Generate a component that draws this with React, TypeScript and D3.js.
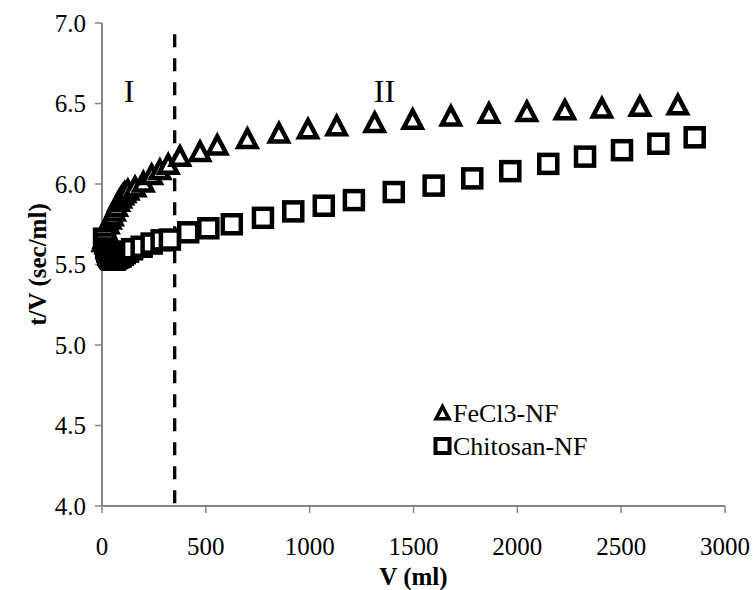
import * as d3 from "d3";
import { useEffect, useRef } from "react";

// FeCl3-NF series (V in ml, t/V in sec/ml)
const fecl3V = [5, 10, 15, 20, 30, 40, 50, 60, 70, 80, 90, 100, 110, 125, 159, 199, 239, 279, 319, 375, 472, 555, 700, 852, 992, 1130, 1313, 1496, 1680, 1863, 2046, 2229, 2407, 2590, 2773];
const fecl3T = [5.64, 5.66, 5.69, 5.71, 5.75, 5.78, 5.8, 5.83, 5.86, 5.89, 5.91, 5.93, 5.945, 5.96, 5.98, 6.01, 6.056, 6.087, 6.12, 6.17, 6.2, 6.24, 6.28, 6.315, 6.34, 6.36, 6.38, 6.4, 6.42, 6.437, 6.448, 6.458, 6.47, 6.48, 6.49];

// Chitosan-NF series
const chitosanV = [10, 15, 20, 25, 30, 35, 40, 45, 50, 55, 60, 65, 70, 80, 90, 100, 110, 125, 145, 191, 239, 287, 327, 415, 512, 625, 775, 921, 1068, 1213, 1405, 1597, 1783, 1966, 2149, 2326, 2504, 2679, 2854];
const chitosanT = [5.66, 5.63, 5.6, 5.58, 5.56, 5.55, 5.54, 5.535, 5.53, 5.53, 5.53, 5.535, 5.54, 5.545, 5.55, 5.56, 5.57, 5.58, 5.595, 5.61, 5.63, 5.65, 5.655, 5.7, 5.725, 5.75, 5.79, 5.83, 5.865, 5.9, 5.95, 5.99, 6.035, 6.08, 6.125, 6.17, 6.21, 6.25, 6.29];

const xTicks = [0, 500, 1000, 1500, 2000, 2500, 3000];
const yTicks = [4.0, 4.5, 5.0, 5.5, 6.0, 6.5, 7.0];

// boundary between region I and II
const boundaryV = 350;
const boundaryTop = 6.93;

const regions = [
  { label: "I", v: 130, t: 6.51 },
  { label: "II", v: 1360, t: 6.51 },
];

const seriesNames = ["FeCl3-NF", "Chitosan-NF"];

export default function App() {
  const ref = useRef(null);

  useEffect(() => {
    const height = 590;
    const margin = { top: 23, right: 30, bottom: 84, left: 102 };

    const svg = d3.select(ref.current);
    svg.selectAll("*").remove();

    const x = d3.scaleLinear().domain([0, 3000]).range([margin.left, 725]);
    const y = d3.scaleLinear().domain([4, 7]).range([height - margin.bottom, margin.top]);

    const font = "Liberation Serif, DejaVu Serif, serif";
    const axisColor = "#868686";

    // axes
    svg
      .append("line")
      .attr("x1", x(0))
      .attr("x2", x(3000))
      .attr("y1", y(4))
      .attr("y2", y(4))
      .attr("stroke", axisColor)
      .attr("stroke-width", 2);
    svg
      .append("line")
      .attr("x1", x(0))
      .attr("x2", x(0))
      .attr("y1", y(4))
      .attr("y2", y(7))
      .attr("stroke", axisColor)
      .attr("stroke-width", 2);

    svg
      .selectAll("line.xtick")
      .data(xTicks)
      .enter()
      .append("line")
      .attr("class", "xtick")
      .attr("x1", (d) => x(d))
      .attr("x2", (d) => x(d))
      .attr("y1", y(4))
      .attr("y2", y(4) + 7)
      .attr("stroke", axisColor)
      .attr("stroke-width", 1.5);

    svg
      .selectAll("text.xlabel")
      .data(xTicks)
      .enter()
      .append("text")
      .attr("class", "xlabel")
      .attr("x", (d) => x(d))
      .attr("y", y(4) + 49)
      .attr("text-anchor", "middle")
      .style("font-family", font)
      .style("font-size", "25px")
      .text((d) => d);

    svg
      .selectAll("line.ytick")
      .data(yTicks)
      .enter()
      .append("line")
      .attr("class", "ytick")
      .attr("x1", x(0) - 7)
      .attr("x2", x(0))
      .attr("y1", (d) => y(d))
      .attr("y2", (d) => y(d))
      .attr("stroke", axisColor)
      .attr("stroke-width", 1.5);

    svg
      .selectAll("text.ylabel")
      .data(yTicks)
      .enter()
      .append("text")
      .attr("class", "ylabel")
      .attr("x", x(0) - 16)
      .attr("y", (d) => y(d))
      .attr("dy", "0.34em")
      .attr("text-anchor", "end")
      .style("font-family", font)
      .style("font-size", "25px")
      .text((d) => d.toFixed(1));

    // axis titles
    svg
      .append("text")
      .attr("x", (x(0) + x(3000)) / 2)
      .attr("y", 585)
      .attr("text-anchor", "middle")
      .style("font-family", font)
      .style("font-weight", "bold")
      .style("font-size", "25px")
      .text("V (ml)");

    svg
      .append("text")
      .attr("transform", `translate(46,${(y(4) + y(7)) / 2}) rotate(-90)`)
      .attr("text-anchor", "middle")
      .style("font-family", font)
      .style("font-weight", "bold")
      .style("font-size", "25px")
      .text("t/V (sec/ml)");

    // dashed boundary
    svg
      .append("line")
      .attr("x1", x(boundaryV))
      .attr("x2", x(boundaryV))
      .attr("y1", y(boundaryTop))
      .attr("y2", y(4))
      .attr("stroke", "#000")
      .attr("stroke-width", 3.3)
      .attr("stroke-dasharray", "13,11");

    svg
      .selectAll("text.region")
      .data(regions)
      .enter()
      .append("text")
      .attr("class", "region")
      .attr("x", (d) => x(d.v))
      .attr("y", (d) => y(d.t))
      .attr("text-anchor", "middle")
      .style("font-family", font)
      .style("font-size", "32px")
      .text((d) => d.label);

    const tri = (s) => `M0,${-s}L${s},${s * 0.9}L${-s},${s * 0.9}Z`;

    const fecl3 = fecl3V.map((v, i) => ({ v, t: fecl3T[i] }));
    const chitosan = chitosanV.map((v, i) => ({ v, t: chitosanT[i] }));

    svg
      .selectAll("path.fecl3")
      .data(fecl3)
      .enter()
      .append("path")
      .attr("class", "fecl3")
      .attr("d", tri(9))
      .attr("transform", (d) => `translate(${x(d.v)},${y(d.t)})`)
      .attr("fill", "#fff")
      .attr("stroke", "#000")
      .attr("stroke-width", 4.5);

    svg
      .selectAll("rect.chitosan")
      .data(chitosan)
      .enter()
      .append("rect")
      .attr("class", "chitosan")
      .attr("x", (d) => x(d.v) - 9)
      .attr("y", (d) => y(d.t) - 9)
      .attr("width", 18)
      .attr("height", 18)
      .attr("fill", "#fff")
      .attr("stroke", "#000")
      .attr("stroke-width", 4.5);

    // legend
    const lg = svg.append("g").attr("transform", "translate(442.5,413)");
    lg.append("path")
      .attr("d", tri(6.5))
      .attr("fill", "#fff")
      .attr("stroke", "#000")
      .attr("stroke-width", 3.5);
    lg.append("rect")
      .attr("x", -7)
      .attr("y", 33 - 7)
      .attr("width", 14)
      .attr("height", 14)
      .attr("fill", "#fff")
      .attr("stroke", "#000")
      .attr("stroke-width", 4);
    lg.selectAll("text")
      .data(seriesNames)
      .enter()
      .append("text")
      .attr("x", 10.5)
      .attr("y", (d, i) => i * 33 + 8.5)
      .style("font-family", font)
      .style("font-size", "26px")
      .text((d) => d);
  }, []);

  return (
    <svg
      ref={ref}
      width={755}
      height={590}
      style={{ position: "absolute", left: 0, top: 0, background: "#fff" }}
    />
  );
}
